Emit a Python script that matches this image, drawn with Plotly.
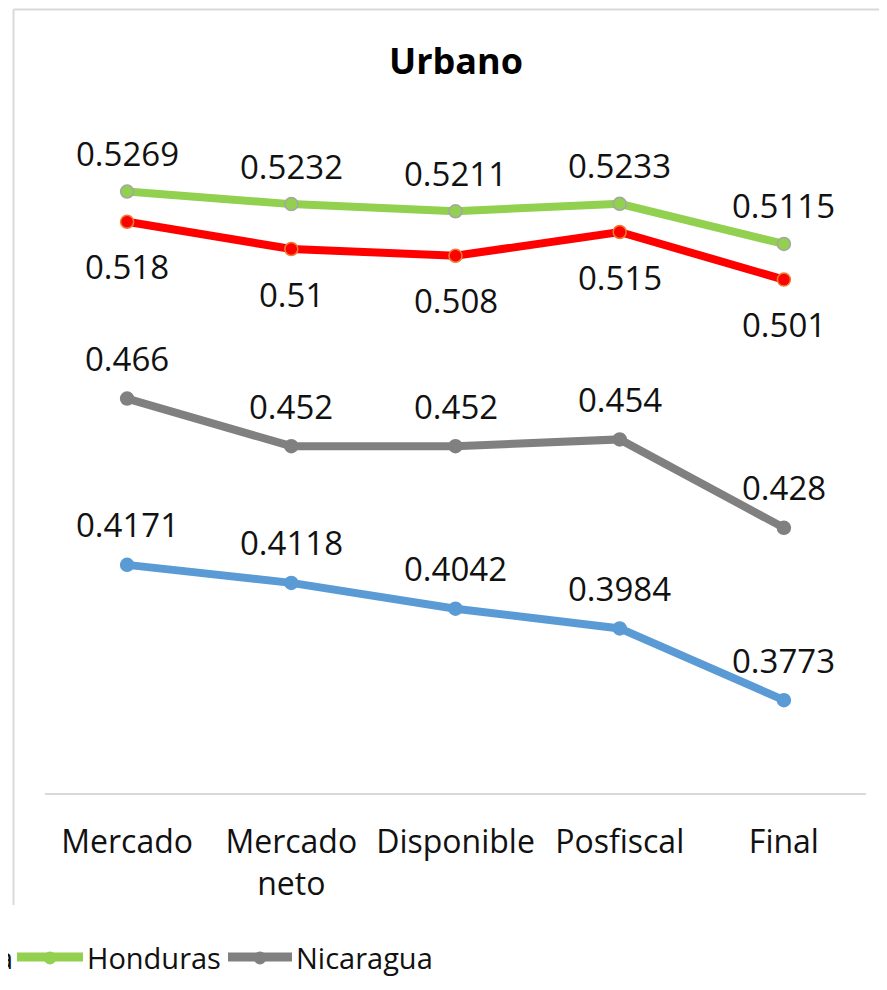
import plotly.graph_objects as go

categories = ["Mercado", "Mercado<br>neto", "Disponible", "Posfiscal", "Final"]
el_salvador = [0.4171, 0.4118, 0.4042, 0.3984, 0.3773]
guatemala = [0.518, 0.51, 0.508, 0.515, 0.501]
honduras = [0.5269, 0.5232, 0.5211, 0.5233, 0.5115]
nicaragua = [0.466, 0.452, 0.452, 0.454, 0.428]

W, H = 887, 990
OFF = 8  # page body margin
L, R, T, B = 45 - OFF, 29, 113 - OFF, 205
PW, PH = W - L - R, H - T - B

def px(x):  # screen x -> paper
    return (x - OFF - L) / PW

def py(y):  # screen y -> paper
    return (H - B - (y - OFF)) / PH

FONT = "Open Sans"
TXT = "#111111"

series = [
    ("El Salvador", el_salvador, "#5b9bd5", "#5b9bd5", 40),
    ("Guatemala", guatemala, "#ff0000", "#ed7d31", -45),
    ("Honduras", honduras, "#92d050", "#a5a5a5", 38),
    ("Nicaragua", nicaragua, "#808080", "#808080", 40),
]

fig = go.Figure()
annotations = []
for name, vals, col, edge, shift in series:
    fig.add_trace(go.Scatter(
        x=list(range(len(categories))), y=vals, name=name, mode="lines+markers",
        line=dict(color=col, width=8),
        marker=dict(size=13, color=col, line=dict(color=edge, width=1.5)),
        showlegend=False, hoverinfo="skip"))
    for i, v in enumerate(vals):
        annotations.append(dict(x=i, y=v, xref="x", yref="y", text=str(v), showarrow=False,
                                yshift=shift, font=dict(family=FONT, size=33, color=TXT)))

annotations.append(dict(x=0.5, y=py(60), xref="paper", yref="paper", text="<b>Urbano</b>",
                        showarrow=False, yanchor="middle",
                        font=dict(family=FONT, size=36, color="#000000")))

shapes = [
    dict(type="line", xref="paper", yref="paper", x0=px(13.5), x1=px(895), y0=py(9.5), y1=py(9.5),
         line=dict(color="#d9d9d9", width=2)),
    dict(type="line", xref="paper", yref="paper", x0=px(13.5), x1=px(13.5), y0=py(9.5), y1=py(905),
         line=dict(color="#d9d9d9", width=2)),
]

# legend (partially cut off on the left)
leg_y = py(957)
for name, col, edge, x0, x1 in [("Honduras", "#92d050", "#a5a5a5", 17, 83),
                                ("Nicaragua", "#808080", "#808080", 228, 292)]:
    shapes.append(dict(type="line", xref="paper", yref="paper", x0=px(x0), x1=px(x1), y0=leg_y, y1=leg_y,
                       line=dict(color=col, width=9)))
    cx = (x0 + x1) / 2
    shapes.append(dict(type="circle", xref="paper", yref="paper", x0=px(cx - 6), x1=px(cx + 6),
                       y0=py(964), y1=py(952), fillcolor=col, line=dict(color=col, width=1)))
    annotations.append(dict(x=px(x1 + 2), y=leg_y, xref="paper", yref="paper", text=name, showarrow=False,
                            xanchor="left", yanchor="middle", font=dict(family=FONT, size=29, color=TXT)))
annotations.append(dict(x=px(15), y=leg_y, xref="paper", yref="paper", text="Guatemala", showarrow=False,
                        xanchor="right", yanchor="middle", font=dict(family=FONT, size=29, color=TXT)))

fig.update_layout(
    width=W, height=H, margin=dict(l=L, r=R, t=T, b=B),
    paper_bgcolor="white", plot_bgcolor="white",
    annotations=annotations, shapes=shapes,
    xaxis=dict(range=[-0.5, 4.5], tickmode="array", tickvals=list(range(len(categories))),
               ticktext=categories, showgrid=False, zeroline=False, showline=True,
               linecolor="#d9d9d9", linewidth=2, ticks="", ticklabelstandoff=20,
               tickfont=dict(family=FONT, size=32, color=TXT)),
    yaxis=dict(range=[0.35, 0.55], visible=False, showgrid=False, zeroline=False),
)

fig.write_html("out.html")
